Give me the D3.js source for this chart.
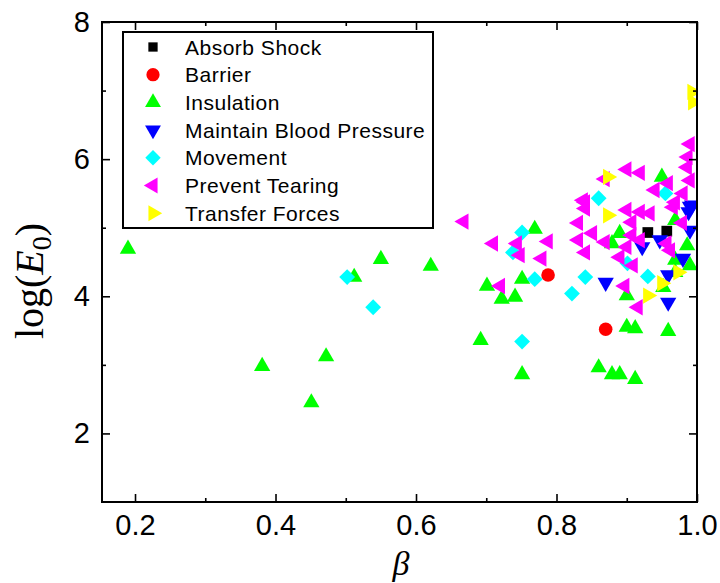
<!DOCTYPE html>
<html>
<head>
<meta charset="utf-8">
<script src="https://cdn.jsdelivr.net/npm/d3@7"></script>
<style>
  body { margin: 0; background: white; }
  text { font-family: "Liberation Sans", Arial, sans-serif; }
</style>
</head>
<body>
<div id="chart"></div>
<script>
// Data: [beta, log(E0)]
const absorbShock = [[0.930, 4.93], [0.957, 4.95]];
const barrier = [[0.788, 4.31], [0.870, 3.52]];
const insulation = [
  [0.190, 4.69], [0.381, 2.98], [0.472, 3.12], [0.451, 2.45], [0.550, 4.54],
  [0.512, 4.28], [0.621, 4.44], [0.769, 4.98], [0.701, 4.15], [0.751, 4.25],
  [0.722, 3.96], [0.741, 3.99], [0.692, 3.36], [0.751, 2.86], [0.890, 4.92],
  [0.879, 4.77], [0.950, 5.74], [0.969, 5.11], [0.986, 4.74], [0.969, 4.53],
  [0.990, 4.45], [0.969, 4.35], [0.952, 4.13], [0.900, 4.01], [0.900, 3.55],
  [0.912, 3.53], [0.959, 3.49], [0.860, 2.96], [0.879, 2.86], [0.890, 2.86],
  [0.912, 2.79]
];
const maintainBP = [
  [0.990, 5.31], [0.993, 5.33], [0.988, 5.23], [0.922, 4.72], [0.947, 4.82],
  [0.980, 4.55], [0.959, 4.31], [0.870, 4.20], [0.959, 3.91], [0.990, 4.96]
];
const movement = [
  [0.502, 4.28], [0.539, 3.84], [0.751, 4.93], [0.738, 4.64], [0.769, 4.25],
  [0.751, 3.34], [0.841, 4.28], [0.822, 4.04], [0.860, 5.43], [0.955, 5.50],
  [0.901, 4.48], [0.930, 4.29]
];
const preventTearing = [
  [0.668, 5.09], [0.710, 4.77], [0.744, 4.77], [0.748, 4.60], [0.788, 4.80],
  [0.779, 4.55], [0.720, 4.15], [0.990, 6.22], [0.987, 6.03], [0.986, 5.88],
  [0.990, 5.69], [0.900, 5.85], [0.919, 5.80], [0.869, 5.71], [0.959, 5.65],
  [0.940, 5.55], [0.980, 5.50], [0.969, 5.37], [0.841, 5.37], [0.841, 5.28],
  [0.900, 5.26], [0.919, 5.23], [0.933, 5.21], [0.907, 5.08], [0.966, 5.30],
  [0.979, 5.07], [0.831, 5.07], [0.851, 4.92], [0.831, 4.82], [0.869, 4.79],
  [0.841, 4.64], [0.900, 4.72], [0.907, 4.89], [0.919, 4.82], [0.890, 4.57],
  [0.909, 4.45], [0.957, 4.77], [0.962, 4.67], [0.897, 4.15], [0.916, 3.84],
  [0.838, 5.40]
];
const transferForces = [
  [0.993, 6.98], [0.994, 6.83], [0.873, 5.74], [0.873, 5.18], [0.973, 4.35],
  [0.950, 4.19], [0.930, 4.01]
];

const seriesNames = ["Absorb Shock", "Barrier", "Insulation", "Maintain Blood Pressure",
  "Movement", "Prevent Tearing", "Transfer Forces"];
const seriesData = [absorbShock, barrier, insulation, maintainBP, movement, preventTearing, transferForces];
const seriesColors = ["#000000", "#ff0000", "#00ff00", "#0000ff", "#00ffff", "#ff00ff", "#ffff00"];

const xTicks = [0.2, 0.4, 0.6, 0.8, 1.0];
const xMinor = [0.3, 0.5, 0.7, 0.9];
const yTicks = [2, 4, 6, 8];
const yMinor = [3, 5, 7];

const width = 720, height = 583;
const margin = {top: 22, right: 23, bottom: 81, left: 102};

const svg = d3.select('#chart')
  .append('svg')
  .attr('width', width)
  .attr('height', height)
  .style('background', 'white');

const xScale = d3.scaleLinear()
  .domain([0.153, 1.0])
  .range([margin.left, width - margin.right]);

const yScale = d3.scaleLinear()
  .domain([1, 8])
  .range([height - margin.bottom, margin.top]);

// marker shapes
function markerPath(i, s) {
  if (i === 0) return d3.symbol(d3.symbolSquare, 115 * s)();
  if (i === 1) return d3.symbol(d3.symbolCircle, 145 * s)();
  if (i === 4) return d3.symbol(d3.symbolSquare, 125 * s)();
  return d3.symbol(d3.symbolTriangle, 115 * s)();
}
const markerRotate = [0, 0, 0, 180, 45, -90, 90];

// clip
svg.append('clipPath').attr('id', 'plotclip')
  .append('rect')
  .attr('x', margin.left).attr('y', margin.top)
  .attr('width', width - margin.left - margin.right)
  .attr('height', height - margin.top - margin.bottom);

const plot = svg.append('g').attr('clip-path', 'url(#plotclip)');

seriesData.forEach((data, i) => {
  plot.selectAll('.pt' + i)
    .data(data)
    .enter()
    .append('path')
    .attr('d', markerPath(i, 1))
    .attr('transform', d => `translate(${xScale(d[0])},${yScale(d[1])}) rotate(${markerRotate[i]})`)
    .attr('fill', seriesColors[i]);
});

// axes
const bottom = height - margin.bottom;
const right = width - margin.right;

function styleAxis(g) {
  g.select('.domain').remove();
  g.selectAll('.tick line').attr('stroke', 'black').attr('stroke-width', 1.6);
  g.selectAll('.tick text').attr('fill', 'black').style('font-size', '29px');
}

svg.append('g')
  .attr('transform', `translate(0,${bottom})`)
  .call(d3.axisBottom(xScale).tickValues(xTicks).tickSize(-8).tickPadding(12).tickFormat(d3.format('.1f')))
  .call(styleAxis);
svg.append('g')
  .attr('transform', `translate(0,${bottom})`)
  .call(d3.axisBottom(xScale).tickValues(xMinor).tickSize(-4).tickFormat(''))
  .call(styleAxis);
svg.append('g')
  .attr('transform', `translate(0,${margin.top})`)
  .call(d3.axisTop(xScale).tickValues(xTicks).tickSize(-8).tickFormat(''))
  .call(styleAxis);
svg.append('g')
  .attr('transform', `translate(0,${margin.top})`)
  .call(d3.axisTop(xScale).tickValues(xMinor).tickSize(-4).tickFormat(''))
  .call(styleAxis);

svg.append('g')
  .attr('transform', `translate(${margin.left},0)`)
  .call(d3.axisLeft(yScale).tickValues(yTicks).tickSize(-8).tickPadding(12).tickFormat(d3.format('d')))
  .call(styleAxis);
svg.append('g')
  .attr('transform', `translate(${margin.left},0)`)
  .call(d3.axisLeft(yScale).tickValues(yMinor).tickSize(-4).tickFormat(''))
  .call(styleAxis);
svg.append('g')
  .attr('transform', `translate(${right},0)`)
  .call(d3.axisRight(yScale).tickValues(yTicks).tickSize(-8).tickFormat(''))
  .call(styleAxis);
svg.append('g')
  .attr('transform', `translate(${right},0)`)
  .call(d3.axisRight(yScale).tickValues(yMinor).tickSize(-4).tickFormat(''))
  .call(styleAxis);

// frame
svg.append('rect')
  .attr('x', margin.left).attr('y', margin.top)
  .attr('width', right - margin.left)
  .attr('height', bottom - margin.top)
  .attr('fill', 'none')
  .attr('stroke', 'black')
  .attr('stroke-width', 2);

// axis labels
svg.append('text')
  .attr('x', 401)
  .attr('y', 575)
  .attr('text-anchor', 'middle')
  .style('font-family', '"Liberation Serif", "Times New Roman", serif')
  .style('font-style', 'italic')
  .style('font-size', '34px')
  .text('β');

const ylab = svg.append('text')
  .attr('transform', 'translate(43,281) rotate(-90)')
  .attr('text-anchor', 'middle')
  .style('font-family', '"Liberation Serif", "Times New Roman", serif')
  .style('font-size', '40px');
ylab.append('tspan').text('log(');
ylab.append('tspan').style('font-style', 'italic').text('E');
ylab.append('tspan').attr('dy', 8).style('font-size', '28px').text('0');
ylab.append('tspan').attr('dy', -8).text(')');

// legend
const legend = svg.append('g');
legend.append('rect')
  .attr('x', 123).attr('y', 32)
  .attr('width', 310).attr('height', 196)
  .attr('fill', 'white')
  .attr('stroke', 'black')
  .attr('stroke-width', 2);

seriesNames.forEach((name, i) => {
  const cy = 47 + i * 27.7;
  legend.append('path')
    .attr('d', markerPath(i, i === 0 ? 0.75 : 0.95))
    .attr('transform', `translate(153,${cy}) rotate(${markerRotate[i]})`)
    .attr('fill', seriesColors[i]);
  legend.append('text')
    .attr('x', 185)
    .attr('y', cy)
    .attr('dy', '0.36em')
    .style('font-size', '21px')
    .style('letter-spacing', '0.5px')
    .text(name);
});
</script>
</body>
</html>
